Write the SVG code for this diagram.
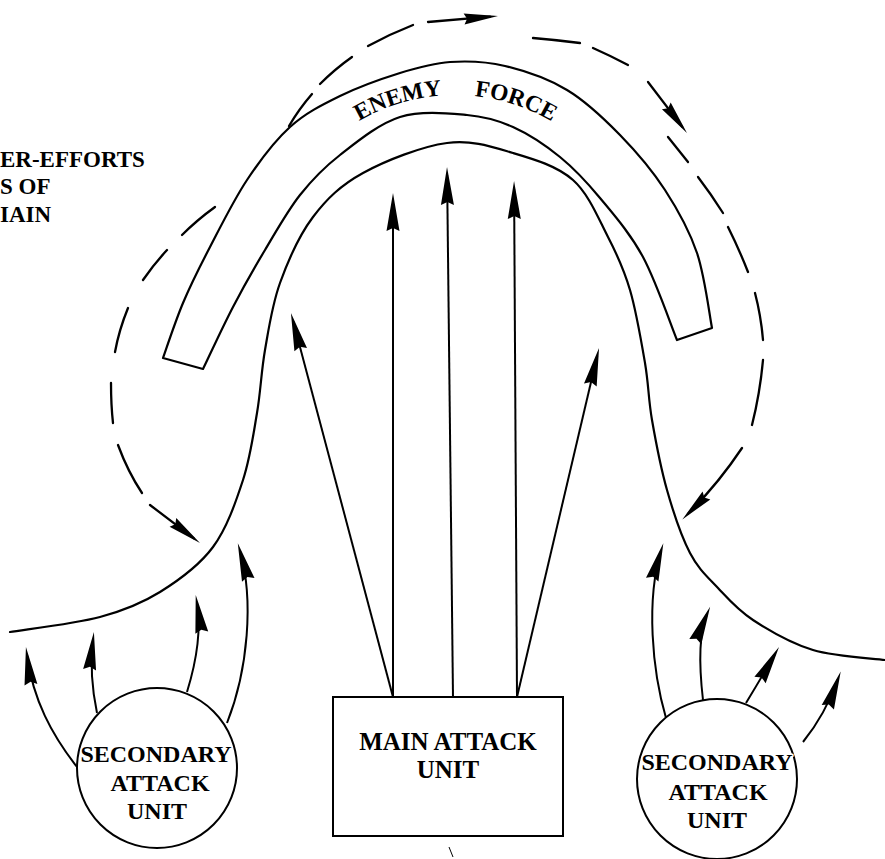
<svg xmlns="http://www.w3.org/2000/svg" width="885" height="859" viewBox="0 0 885 859">
<style>
.ln{fill:none;stroke:#000;stroke-width:2.2;stroke-linecap:round;stroke-linejoin:round}
.ar{fill:none;stroke:#000;stroke-width:2;marker-end:url(#ah)}
.ds{fill:none;stroke:#000;stroke-width:2.3;stroke-linecap:round}
.da{fill:none;stroke:#000;stroke-width:2.3;stroke-linecap:round;marker-end:url(#dh)}
.lbl{font-family:"Liberation Serif","Times New Roman",serif;font-weight:bold;fill:#000}
.halo{paint-order:stroke;stroke:#fff;stroke-width:3;stroke-linejoin:round}
.shape{fill:none;stroke:#000;stroke-width:2}
</style>
<defs>
<marker id="ah" markerUnits="userSpaceOnUse" markerWidth="50" markerHeight="20" viewBox="-45 -10 50 20" refX="-8" refY="0" orient="auto" overflow="visible">
<path d="M0,0 L-38,-6.5 L-35,0 L-38,6.5 Z" fill="#000"/>
</marker>
<marker id="dh" markerUnits="userSpaceOnUse" markerWidth="50" markerHeight="20" viewBox="-45 -10 50 20" refX="-8" refY="0" orient="auto" overflow="visible">
<path d="M0,0 L-34,-5.5 L-31,0 L-34,5.5 Z" fill="#000"/>
</marker>
<path id="arc" d="M332.9,139.5 A190,190 0 0 1 577.1,139.5"/>
</defs>
<rect width="885" height="859" fill="#fff"/>

<g id="front-line">
<path class="ln" d="M10,632 C25,629.5 75,623.7 100,617 C125,610.3 141.2,603.7 160,592 C178.8,580.3 199.2,565.7 213,547 C226.8,528.3 235.7,502.3 243,480 C250.3,457.7 253.3,434.7 257,413 C260.7,391.3 261.2,371.7 265,350 C268.8,328.3 272,305.2 280,283 C288,260.8 299.2,235.3 313,217 C326.8,198.7 340.7,185.3 363,173 C385.3,160.7 422,146.3 447,143 C472,139.7 492,146.8 513,153 C534,159.2 557.2,166 573,180 C588.8,194 598.5,218.7 608,237 C617.5,255.3 623.8,269 630,290 C636.2,311 641.3,341.3 645,363 C648.7,384.7 648.3,398.8 652,420 C655.7,441.2 660.7,467.8 667,490 C673.3,512.2 681.5,536.7 690,553 C698.5,569.3 707.5,576.8 718,588 C728.5,599.2 737.2,609.7 753,620 C768.8,630.3 791,643.3 813,650 C835,656.7 873,658.3 885,660"/>
</g>

<g id="enemy-force">
<path class="ln" d="M163,358 C166.3,348.8 175.2,321.5 183,303 C190.8,284.5 199.3,267.5 210,247 C220.7,226.5 233.7,200 247,180 C260.3,160 274.5,141 290,127 C305.5,113 321.7,105 340,96 C358.3,87 381.7,78.7 400,73 C418.3,67.3 432.5,63.2 450,62 C467.5,60.8 485.5,61.3 505,66 C524.5,70.7 547.8,78.5 567,90 C586.2,101.5 603.7,118.3 620,135 C636.3,151.7 652.2,170.3 665,190 C677.8,209.7 689.2,230 697,253 C704.8,276 709.5,315.5 712,328 L677,340 C671.3,326.2 655.8,280.7 643,257 C630.2,233.3 613.8,214.7 600,198 C586.2,181.3 574.5,168.8 560,157 C545.5,145.2 528.5,134 513,127 C497.5,120 485.8,116.7 467,115 C448.2,113.3 421.2,110.3 400,117 C378.8,123.7 356.7,142 340,155 C323.3,168 312.5,179.2 300,195 C287.5,210.8 276.2,231.3 265,250 C253.8,268.7 243.3,287.2 233,307 C222.7,326.8 208,358.7 203,369 Z"/>
<text class="lbl" font-size="23.5"><textPath href="#arc" startOffset="32">ENEMY</textPath></text>
<text class="lbl" font-size="23.5"><textPath href="#arc" startOffset="152">FORCE</textPath></text>
</g>

<g id="note">
<text class="lbl" font-size="23" x="0" y="167">ER-EFFORTS</text>
<text class="lbl" font-size="23" x="0" y="194">S OF</text>
<text class="lbl" font-size="23" x="0" y="222">IAIN</text>
</g>

<g id="main-attack-unit">
<rect class="shape" x="333" y="697" width="230" height="139"/>
<text class="lbl" font-size="25" x="448" y="750" text-anchor="middle">MAIN ATTACK</text>
<text class="lbl" font-size="25" x="448" y="778" text-anchor="middle">UNIT</text>
</g>

<g id="secondary-attack-unit-left">
<circle class="shape" cx="157" cy="768" r="80"/>
<text class="lbl halo" font-size="24" x="156" y="762" text-anchor="middle">SECONDARY</text>
<text class="lbl" font-size="24" x="160" y="791" text-anchor="middle">ATTACK</text>
<text class="lbl" font-size="24" x="157" y="819" text-anchor="middle">UNIT</text>
</g>

<g id="secondary-attack-unit-right">
<circle class="shape" cx="717" cy="779" r="80"/>
<text class="lbl halo" font-size="24" x="717" y="770" text-anchor="middle">SECONDARY</text>
<text class="lbl" font-size="24" x="718" y="800" text-anchor="middle">ATTACK</text>
<text class="lbl" font-size="24" x="717" y="828" text-anchor="middle">UNIT</text>
</g>

<g id="connectors">
<path class="ar" d="M393,697 L393,201"/>
<path class="ar" d="M453,697 L447.1,175"/>
<path class="ar" d="M517,697 L514.1,189"/>
<path class="ar" d="M393,697 L293,320.7"/>
<path class="ar" d="M517,697 L597.2,355.8"/>

<path class="ar" d="M77,767 C52,735 33,700 27,655"/>
<path class="ar" d="M97,713 Q89,675 93,640"/>
<path class="ar" d="M187,692 Q203,640 197,603"/>
<path class="ar" d="M227,723 C248,670 254,600 240,551"/>

<path class="ar" d="M666,718 C652,670 646,600 661,551"/>
<path class="ar" d="M703,700 Q696,640 707,614"/>
<path class="ar" d="M746,703 Q760,680 775,654"/>
<path class="ar" d="M803,742 Q825,715 838,679"/>

<path class="da" d="M150,505 L193.6,538.2"/>
<path class="ds" d="M118,445 Q128,472 142,493"/>
<path class="ds" d="M111,383 Q111,405 113,423"/>
<path class="ds" d="M128,308 Q119,330 115,352"/>
<path class="ds" d="M167,250 Q154,264 143,280"/>
<path class="ds" d="M215,207 Q197,220 182,235"/>
<path class="ds" d="M289,126 Q299,109 312,94"/>
<path class="ds" d="M320,84 Q335,69 352,57"/>
<path class="ds" d="M368,46 Q390,34 413,25"/>
<path class="da" d="M428,22 L490,16.7"/>
<path class="ds" d="M533,38 Q557,40 580,43"/>
<path class="ds" d="M593,48 Q611,56 628,65"/>
<path class="da" d="M648,82 L682.1,126.6"/>
<path class="ds" d="M668,137 L688,162"/>
<path class="ds" d="M698,177 Q711,194 723,213"/>
<path class="ds" d="M728,227 Q739,249 748,272"/>
<path class="ds" d="M755,293 Q761,316 763,340"/>
<path class="ds" d="M763,360 Q760,393 752,425"/>
<path class="da" d="M742,448 Q718,484 688,513.8"/>
</g>
<path d="M449,847 L453,857" stroke="#000" stroke-width="1" fill="none"/>
</svg>
